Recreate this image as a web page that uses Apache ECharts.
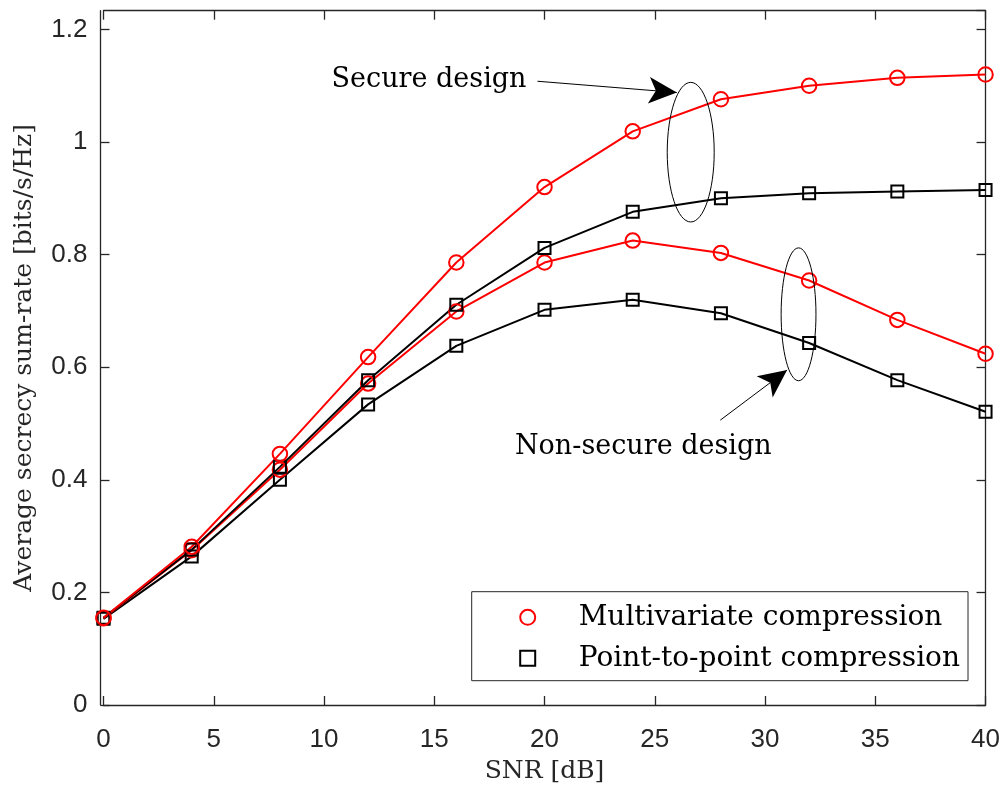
<!DOCTYPE html>
<html>
<head>
<meta charset="utf-8">
<script src="https://cdn.jsdelivr.net/npm/echarts@6/dist/echarts.min.js"></script>
<style>html,body{margin:0;padding:0;background:#fff}#c{width:1003px;height:789px}</style>
</head>
<body>
<div id="c"></div>
<script>
// ---- data ----
const snr = [0, 4, 8, 12, 16, 20, 24, 28, 32, 36, 40];
const secureMulti    = [0.155, 0.281, 0.446, 0.618, 0.786, 0.920, 1.019, 1.076, 1.100, 1.114, 1.120];
const secureP2P      = [0.155, 0.276, 0.423, 0.577, 0.711, 0.812, 0.876, 0.900, 0.909, 0.912, 0.915];
const nonSecureMulti = [0.154, 0.275, 0.418, 0.571, 0.699, 0.786, 0.825, 0.803, 0.754, 0.684, 0.624];
const nonSecureP2P   = [0.153, 0.264, 0.400, 0.534, 0.638, 0.702, 0.720, 0.696, 0.643, 0.577, 0.521];
const seriesNames = ['Multivariate compression', 'Point-to-point compression'];
const xTitle = 'SNR [dB]';
const yTitle = 'Average secrecy sum-rate [bits/s/Hz]';
const annoSecure = 'Secure design';
const annoNonSecure = 'Non-secure design';

const AX = '#262626';
const SERIF = 'DejaVu Serif';
const SANS = 'Liberation Sans';
const toPairs = arr => snr.map((x, i) => [x, arr[i]]);

const chart = echarts.init(document.getElementById('c'), null, {renderer: 'canvas'});

function mkSeries(name, arr, color, symbol, size, withMarks) {
  const s = {
    type: 'line', name: name, data: toPairs(arr),
    symbol: symbol, symbolSize: size, showAllSymbol: true,
    lineStyle: {color: color, width: 2},
    itemStyle: {color: 'rgba(0,0,0,0)', borderColor: color, borderWidth: 2},
    emphasis: {disabled: true}, silent: true, z: 3
  };
  if (withMarks) {
    s.markLine = {
      silent: true, animation: false,
      symbol: ['none', 'arrow'], symbolSize: [20, 28],
      lineStyle: {color: '#000', width: 1, type: 'solid'},
      label: {show: false}, emphasis: {disabled: true},
      data: [
        [{coord: [19.68, 1.108]}, {coord: [26.0, 1.088]}],
        [{coord: [27.97, 0.506]}, {coord: [31.0, 0.595]}]
      ]
    };
  }
  return s;
}

const xTickFmt = v => (Math.abs(v / 5 - Math.round(v / 5)) < 1e-6 ? String(v) : '');
const yTickFmt = v => (Math.abs(v / 0.2 - Math.round(v / 0.2)) < 1e-6 ? String(+v.toFixed(1)) : '');

const frameLine = {show: true, onZero: false, lineStyle: {color: AX, width: 1.3}};
const frameTick = {show: true, inside: true, length: 9, lineStyle: {color: AX, width: 1.3}};

chart.setOption({
  animation: false,
  backgroundColor: '#fff',
  grid: {left: 103.5, right: 16.3, top: 10.7, bottom: 80.6, containLabel: false},
  xAxis: [
    {type: 'value', min: 0, max: 40, interval: 5, position: 'bottom',
     axisLine: frameLine, axisTick: frameTick,
     axisLabel: {formatter: xTickFmt, color: AX, fontFamily: SANS, fontSize: 26, margin: 22},
     splitLine: {show: false},
     name: xTitle, nameLocation: 'middle', nameGap: 54,
     nameTextStyle: {fontFamily: SERIF, fontSize: 25, color: AX}},
    {type: 'value', min: 0, max: 40, interval: 5, position: 'top',
     axisLine: frameLine, axisTick: frameTick,
     axisLabel: {show: false}, splitLine: {show: false}}
  ],
  yAxis: [
    {type: 'value', min: 0, max: 1.2333, interval: 0.2, position: 'left', offset: 3,
     axisLine: frameLine, axisTick: frameTick,
     axisLabel: {formatter: yTickFmt, color: AX, fontFamily: SANS, fontSize: 26, margin: 13,
                 showMaxLabel: false},
     splitLine: {show: false},
     name: yTitle, nameLocation: 'middle', nameGap: 64,
     nameTextStyle: {fontFamily: SERIF, fontSize: 25, color: AX}},
    {type: 'value', min: 0, max: 1.2333, interval: 0.2, position: 'right',
     axisLine: frameLine, axisTick: frameTick,
     axisLabel: {show: false}, splitLine: {show: false}}
  ],
  legend: {
    left: 471.7, top: 591.7, orient: 'vertical', selectedMode: false,
    padding: [10.6, 8, 7.4, 47.5],
    itemWidth: 92, itemHeight: 15, itemGap: 11,
    borderColor: AX, borderWidth: 1, backgroundColor: '#fff',
    textStyle: {fontFamily: SERIF, fontSize: 28, color: '#000', lineHeight: 30},
    data: [
      {name: seriesNames[0], icon: 'circle',
       itemStyle: {color: 'rgba(0,0,0,0)', borderColor: '#ff0000', borderWidth: 2}},
      {name: seriesNames[1], icon: 'path://M0,0H14V14H0Z',
       itemStyle: {color: 'rgba(0,0,0,0)', borderColor: '#000000', borderWidth: 2}}
    ]
  },
  series: [
    mkSeries(seriesNames[1], nonSecureP2P, '#000000', 'rect', 12, true),
    mkSeries(seriesNames[0], nonSecureMulti, '#ff0000', 'circle', 14.5, false),
    mkSeries(seriesNames[1], secureP2P, '#000000', 'rect', 12, false),
    mkSeries(seriesNames[0], secureMulti, '#ff0000', 'circle', 14.5, false)
  ]
});

// annotations placed in data coordinates
const px = (x, y) => chart.convertToPixel({gridIndex: 0}, [x, y]);
function ellipse(cx, cy, ax, ay) {
  const c = px(cx, cy), e = px(cx + ax, cy + ay);
  return {type: 'ellipse', silent: true, z: 10,
    shape: {cx: c[0], cy: c[1], rx: Math.abs(e[0] - c[0]), ry: Math.abs(c[1] - e[1])},
    style: {fill: 'none', stroke: '#000', lineWidth: 1}};
}
function label(text, x, y, align) {
  const p = px(x, y);
  return {type: 'text', silent: true, z: 10, x: p[0], y: p[1],
    style: {text: text, font: '27px "' + SERIF + '"', fill: '#000', align: align, verticalAlign: 'middle'}};
}
chart.setOption({
  graphic: [
    ellipse(26.63, 0.982, 1.065, 0.124),
    ellipse(31.52, 0.694, 0.79, 0.118),
    label(annoSecure, 19.18, 1.111, 'right'),
    label(annoNonSecure, 24.48, 0.4585, 'center')
  ]
});
</script>
</body>
</html>
